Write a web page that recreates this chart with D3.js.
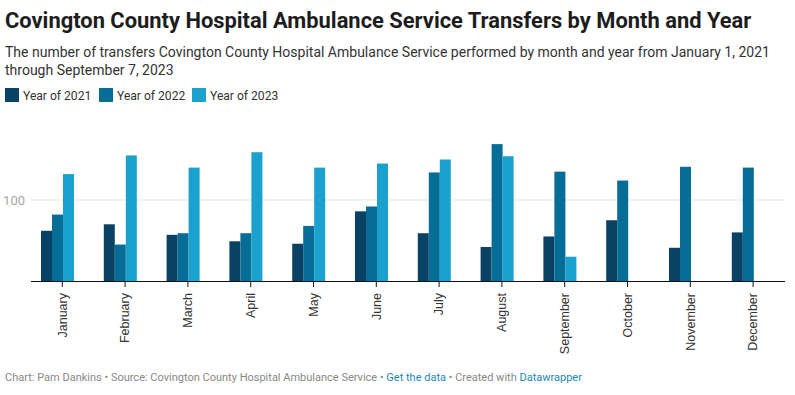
<!DOCTYPE html>
<html>
<head>
<meta charset="utf-8">
<script src="https://cdn.jsdelivr.net/npm/d3@7"></script>
<style>
  body { margin: 0; background: #fff; }
  svg { display: block; font-family: Roboto, sans-serif; }
</style>
</head>
<body>
<div id="chart"></div>
<script>
const months = ["January", "February", "March", "April", "May", "June",
  "July", "August", "September", "October", "November", "December"];
const years = ["Year of 2021", "Year of 2022", "Year of 2023"];
const values2021 = [62, 70, 57, 49, 46, 86, 59, 42, 55, 75, 41, 60];
const values2022 = [82, 45, 59, 59, 68, 92, 134, 169, 135, 124, 141, 140];
const values2023 = [132, 155, 140, 159, 140, 145, 150, 154, 30, null, null, null];
const yTicks = [100];
const colors = ["#0a4266", "#066d96", "#1aa1cd"];

const width = 795, height = 395;

const svg = d3.select("#chart").append("svg")
  .attr("width", width)
  .attr("height", height);

// header
svg.append("text")
  .attr("x", 5).attr("y", 28)
  .attr("font-size", 21.9).attr("font-weight", 700)
  .attr("fill", "#1d1d1d")
  .text("Covington County Hospital Ambulance Service Transfers by Month and Year");

const sub = svg.append("text")
  .attr("font-size", 14).attr("fill", "#333");
sub.append("tspan").attr("x", 5).attr("y", 57)
  .text("The number of transfers Covington County Hospital Ambulance Service performed by month and year from January 1, 2021");
sub.append("tspan").attr("x", 5).attr("y", 75)
  .text("through September 7, 2023");

// legend
const legendX = [5, 99, 192];
const legend = svg.append("g").selectAll("g")
  .data(years)
  .join("g")
  .attr("transform", (d, i) => `translate(${legendX[i]},88)`);
legend.append("rect")
  .attr("width", 14).attr("height", 14)
  .attr("fill", (d, i) => colors[i]);
legend.append("text")
  .attr("x", 18).attr("y", 11.5)
  .attr("font-size", 12.1).attr("fill", "#333")
  .text(d => d);

// scales
const step = 62.8;
const x = d3.scaleBand()
  .domain(months)
  .range([26.1, 26.1 + step * months.length])
  .paddingInner(0.4745)
  .paddingOuter(0.23725);

const xSub = d3.scaleBand()
  .domain(years)
  .range([0, x.bandwidth()]);

const y = d3.scaleLinear()
  .domain([0, 100])
  .range([281, 200]);

const axisLeft = 31, axisRight = 785;
const tickX = m => x(m) + x.bandwidth() / 2 + 4.8;

// grid
svg.append("g").selectAll("line")
  .data(yTicks)
  .join("line")
  .attr("x1", axisLeft).attr("x2", axisRight)
  .attr("y1", d => y(d)).attr("y2", d => y(d))
  .attr("stroke", "#e3e3e3");

svg.append("g").selectAll("text")
  .data(yTicks)
  .join("text")
  .attr("x", 25).attr("y", d => y(d) + 4.5)
  .attr("text-anchor", "end")
  .attr("font-size", 13).attr("fill", "#a6a6a6")
  .text(d => d);

// bars
const rows = months.map((m, i) => ({
  month: m,
  vals: [values2021[i], values2022[i], values2023[i]]
}));

svg.append("g").selectAll("g")
  .data(rows)
  .join("g")
  .attr("transform", d => `translate(${x(d.month)},0)`)
  .selectAll("rect")
  .data(d => d.vals.map((v, i) => ({ key: years[i], v, i })).filter(e => e.v != null))
  .join("rect")
  .attr("x", d => xSub(d.key))
  .attr("width", xSub.bandwidth())
  .attr("y", d => y(d.v))
  .attr("height", d => y(0) - y(d.v))
  .attr("fill", d => colors[d.i]);

// x axis
const xAxis = svg.append("g");
xAxis.append("line")
  .attr("x1", axisLeft).attr("x2", axisRight)
  .attr("y1", y(0) + 0.5).attr("y2", y(0) + 0.5)
  .attr("stroke", "#111").attr("stroke-width", 1.2);
xAxis.selectAll(".tick")
  .data(months)
  .join("line")
  .attr("class", "tick")
  .attr("x1", d => tickX(d)).attr("x2", d => tickX(d))
  .attr("y1", y(0)).attr("y2", y(0) + 6)
  .attr("stroke", "#111");
xAxis.selectAll(".label")
  .data(months)
  .join("text")
  .attr("class", "label")
  .attr("font-family", "Liberation Sans, Arial, sans-serif")
  .attr("font-size", 12.5)
  .attr("fill", "#333")
  .attr("text-anchor", "end")
  .attr("dy", "0.35em")
  .attr("transform", d => `translate(${tickX(d)},${y(0) + 12}) rotate(-90)`)
  .text(d => d);

// footer
const foot = svg.append("text")
  .attr("x", 5).attr("y", 381)
  .attr("font-size", 11).attr("fill", "#888");
foot.append("tspan").text("Chart: Pam Dankins • Source: Covington County Hospital Ambulance Service • ");
foot.append("tspan").attr("fill", "#1d88b3").text("Get the data");
foot.append("tspan").text(" • Created with ");
foot.append("tspan").attr("fill", "#1d88b3").text("Datawrapper");
</script>
</body>
</html>
